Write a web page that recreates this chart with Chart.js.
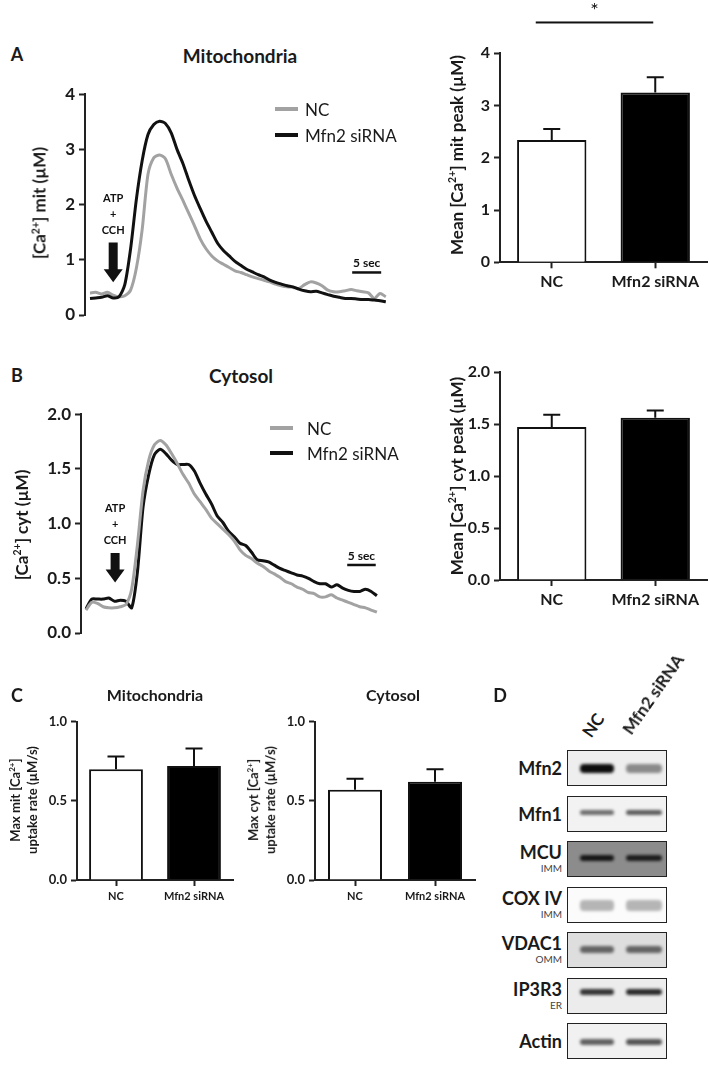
<!DOCTYPE html>
<html>
<head>
<meta charset="utf-8">
<script src="https://cdn.jsdelivr.net/npm/chart.js@4.4.0/dist/chart.umd.min.js"></script>
<style>
body { margin: 0; background: #fff; }
#fig { position: relative; width: 709px; height: 1065px; overflow: hidden; font-family: Lato, "Open Sans", sans-serif; color: #1a1a1a; }
canvas { position: absolute; }
.t { position: absolute; white-space: nowrap; line-height: 1; font-weight: bold; transform: translate(-50%, -50%); }
.rot { transform: translate(-50%, -50%) rotate(-90deg); text-align: center; }
.leg { position: absolute; white-space: nowrap; line-height: 1; font-size: 17px; transform: translateY(-50%); }
.legline { position: absolute; height: 4px; width: 23px; }
sup { font-size: 0.62em; vertical-align: 0.6em; line-height: 0; }
.blot { position: absolute; left: 567px; width: 100px; height: 36px; border: 1.5px solid #222; box-sizing: border-box; overflow: hidden; }
.band { position: absolute; border-radius: 4px; filter: blur(1.4px); }
.blab { position: absolute; right: 147px; text-align: right; white-space: nowrap; line-height: 1; }
.lane { position: absolute; font-size: 17px; font-weight: bold; line-height: 1; white-space: nowrap; transform-origin: 0 100%; transform: rotate(-55deg); }
</style>
</head>
<body>
<div id="fig">
  <canvas id="traceMit" width="400" height="250" style="left:0;top:80px"></canvas>
  <canvas id="peakMit" width="309" height="330" style="left:400px;top:0"></canvas>
  <canvas id="traceCyt" width="400" height="250" style="left:0;top:400px"></canvas>
  <canvas id="peakCyt" width="309" height="300" style="left:400px;top:350px"></canvas>
  <canvas id="rateMit" width="245" height="210" style="left:0;top:700px"></canvas>
  <canvas id="rateCyt" width="240" height="210" style="left:245px;top:700px"></canvas>

  <div class="t" style="left:17px;top:54px;font-size:18px">A</div>
  <div class="t" style="left:240px;top:55px;font-size:19px">Mitochondria</div>
  <div class="t" style="left:17px;top:375px;font-size:18px">B</div>
  <div class="t" style="left:241px;top:375px;font-size:19px">Cytosol</div>
  <div class="t" style="left:17px;top:695px;font-size:18px">C</div>
  <div class="t" style="left:155px;top:695px;font-size:16px">Mitochondria</div>
  <div class="t" style="left:393px;top:695px;font-size:16px">Cytosol</div>
  <div class="t" style="left:500px;top:695px;font-size:18px">D</div>

  <div class="t rot" style="left:39px;top:203px;font-size:17px">[Ca<sup>2+</sup>] mit (µM)</div>
  <div class="t rot" style="left:21px;top:525px;font-size:17px">[Ca<sup>2+</sup>] cyt (µM)</div>
  <div class="t rot" style="left:456px;top:155px;font-size:17px">Mean [Ca<sup>2+</sup>] mit peak (µM)</div>
  <div class="t rot" style="left:456px;top:476px;font-size:17px">Mean [Ca<sup>2+</sup>] cyt peak (µM)</div>
  <div class="t rot" style="left:24px;top:800px;font-size:13px;line-height:1.3">Max mit [Ca<sup>2+</sup>]<br>uptake rate (µM/s)</div>
  <div class="t rot" style="left:262px;top:800px;font-size:13px;line-height:1.3">Max cyt [Ca<sup>2+</sup>]<br>uptake rate (µM/s)</div>

  <div id="legends"></div>
  <div id="blots"></div>
</div>

<script>
// traces (one sample per second)
var timeSec = [0, 1, 2, 3, 4, 5, 6, 7, 8, 9, 10, 11, 12, 13, 14, 15, 16, 17, 18, 19, 20, 21, 22, 23, 24, 25,
    26, 27, 28, 29, 30, 31, 32, 33, 34, 35, 36, 37, 38, 39, 40, 41, 42, 43, 44, 45, 46, 47, 48, 49, 50, 51];
var mitNC = [0.40, 0.41, 0.38, 0.41, 0.36, 0.33, 0.35, 0.45, 0.85, 1.55, 2.55, 2.85, 2.90, 2.83, 2.55, 2.30,
    2.08, 1.85, 1.62, 1.38, 1.20, 1.07, 0.98, 0.92, 0.86, 0.80, 0.77, 0.73, 0.69, 0.66, 0.63, 0.60, 0.56,
    0.53, 0.51, 0.50, 0.48, 0.55, 0.60, 0.58, 0.53, 0.45, 0.42, 0.42, 0.44, 0.46, 0.44, 0.42, 0.40, 0.30, 0.39, 0.33];
var mitMfn2 = [0.30, 0.31, 0.32, 0.35, 0.31, 0.33, 0.55, 1.20, 2.10, 2.80, 3.27, 3.45, 3.51, 3.47, 3.30, 3.00,
    2.75, 2.45, 2.17, 1.93, 1.70, 1.50, 1.30, 1.17, 1.07, 0.97, 0.90, 0.83, 0.78, 0.73, 0.69, 0.63, 0.59,
    0.56, 0.53, 0.51, 0.47, 0.44, 0.42, 0.43, 0.40, 0.37, 0.34, 0.32, 0.30, 0.30, 0.29, 0.28, 0.28, 0.27, 0.26, 0.24];
var cytNC = [0.21, 0.28, 0.27, 0.24, 0.23, 0.23, 0.24, 0.26, 0.40, 0.80, 1.30, 1.58, 1.72, 1.76, 1.72, 1.64,
    1.55, 1.45, 1.37, 1.27, 1.20, 1.13, 1.05, 1.00, 0.95, 0.90, 0.84, 0.76, 0.71, 0.68, 0.64, 0.61, 0.57,
    0.54, 0.51, 0.47, 0.45, 0.42, 0.40, 0.37, 0.36, 0.33, 0.33, 0.35, 0.32, 0.30, 0.28, 0.26, 0.24, 0.23, 0.21, 0.19];
var cytMfn2 = [0.22, 0.31, 0.31, 0.31, 0.32, 0.29, 0.30, 0.29, 0.23, 0.55, 1.15, 1.45, 1.63, 1.68, 1.64, 1.58,
    1.54, 1.54, 1.54, 1.48, 1.37, 1.27, 1.18, 1.07, 1.01, 0.93, 0.88, 0.82, 0.80, 0.74, 0.67, 0.66, 0.65,
    0.62, 0.59, 0.57, 0.55, 0.53, 0.52, 0.50, 0.47, 0.45, 0.45, 0.42, 0.44, 0.41, 0.39, 0.38, 0.38, 0.40, 0.38, 0.34];

// bar panels
var groups = ['NC', 'Mfn2 siRNA'];
var mitPeakMean = [2.34, 3.25];
var mitPeakSem = [0.21, 0.29];
var cytPeakMean = [1.47, 1.56];
var cytPeakSem = [0.12, 0.07];
var mitRateMean = [0.70, 0.72];
var mitRateSem = [0.08, 0.11];
var cytRateMean = [0.57, 0.62];
var cytRateSem = [0.07, 0.08];

// western blot
var blotProteins = ['Mfn2', 'Mfn1', 'MCU', 'COX IV', 'VDAC1', 'IP3R3', 'Actin'];
var blotLocations = ['', '', 'IMM', 'IMM', 'OMM', 'ER', ''];
var bandNC = [0.95, 0.55, 0.85, 0.28, 0.55, 0.78, 0.60];
var bandMfn2 = [0.42, 0.62, 0.80, 0.28, 0.55, 0.82, 0.65];

var ncColor = '#a2a2a2';
var mfnColor = '#111111';
var stimulus = ['ATP', '+', 'CCH'];

Chart.defaults.font.family = 'Lato, "Open Sans", sans-serif';
Chart.defaults.color = '#1a1a1a';
Chart.defaults.animation = false;
Chart.defaults.plugins.legend.display = false;
Chart.defaults.plugins.tooltip.enabled = false;

function toPoints(vals) {
    return timeSec.map(function (t, i) { return { x: t, y: vals[i] }; });
}

function yAxis(max, step, digits, width, size) {
    return {
        min: 0, max: max,
        afterFit: function (s) { s.width = width; },
        border: { display: true, color: '#222', width: 2 },
        grid: { drawOnChartArea: false, tickLength: 6, tickWidth: 2, tickColor: '#222' },
        ticks: {
            stepSize: step, padding: 4, color: '#1a1a1a',
            font: { size: size, weight: 'bold' },
            callback: function (v) { return v.toFixed(digits); }
        }
    };
}

// arrow + "ATP + CCH" and 5 sec scale bar
var traceMarks = {
    id: 'traceMarks',
    afterDraw: function (chart, args, o) {
        var ctx = chart.ctx, xs = chart.scales.x, ys = chart.scales.y;
        var ax = xs.getPixelForValue(o.arrowAt);
        var top = ys.getPixelForValue(o.arrowFrom), tip = ys.getPixelForValue(o.arrowTo);
        ctx.save();
        ctx.fillStyle = '#111';
        ctx.beginPath();
        ctx.moveTo(ax - 4.5, top);
        ctx.lineTo(ax + 4.5, top);
        ctx.lineTo(ax + 4.5, tip - 13);
        ctx.lineTo(ax + 9.5, tip - 13);
        ctx.lineTo(ax, tip);
        ctx.lineTo(ax - 9.5, tip - 13);
        ctx.lineTo(ax - 4.5, tip - 13);
        ctx.closePath();
        ctx.fill();
        ctx.font = 'bold 11px Lato';
        ctx.textAlign = 'center';
        ctx.textBaseline = 'middle';
        stimulus.forEach(function (s, i) { ctx.fillText(s, ax, top - 44 + i * 16); });
        var x0 = xs.getPixelForValue(o.barFrom), x1 = xs.getPixelForValue(o.barTo);
        var by = ys.getPixelForValue(o.barAt);
        ctx.fillRect(x0, by - 1, x1 - x0, 2.5);
        ctx.font = 'bold 12px Lato';
        ctx.fillText(o.barLabel, (x0 + x1) / 2, by - 9);
        ctx.restore();
    }
};

var errorBars = {
    id: 'errorBars',
    afterDatasetsDraw: function (chart) {
        var ctx = chart.ctx, ys = chart.scales.y;
        chart.data.datasets.forEach(function (ds, i) {
            chart.getDatasetMeta(i).data.forEach(function (bar, j) {
                var top = ys.getPixelForValue(ds.data[j] + ds.sem[j]);
                ctx.save();
                ctx.strokeStyle = '#111';
                ctx.lineWidth = 2;
                ctx.beginPath();
                ctx.moveTo(bar.x, bar.y);
                ctx.lineTo(bar.x, top);
                ctx.moveTo(bar.x - 8.5, top);
                ctx.lineTo(bar.x + 8.5, top);
                ctx.stroke();
                ctx.restore();
            });
        });
    }
};

var sigBar = {
    id: 'sigBar',
    afterDraw: function (chart, args, o) {
        if (!o.show) return;
        var ctx = chart.ctx, xs = chart.scales.x, ys = chart.scales.y;
        var x0 = xs.getPixelForValue(0) - 16, x1 = xs.getPixelForValue(1) - 2;
        var ly = ys.getPixelForValue(o.lineAt);
        ctx.save();
        ctx.fillStyle = '#111';
        ctx.fillRect(x0, ly - 1, x1 - x0, 2);
        ctx.font = '20px Lato';
        ctx.textAlign = 'center';
        ctx.textBaseline = 'middle';
        ctx.fillText('*', (x0 + x1) / 2, ys.getPixelForValue(o.starAt));
        ctx.restore();
    }
};

function traceChart(id, nc, mfn, ncOnTop, yMax, step, digits, yWidth, xMin, xMax, pad, marks) {
    return new Chart(document.getElementById(id), {
        type: 'line',
        data: {
            datasets: [{
                label: groups[0], data: toPoints(nc), borderColor: ncColor,
                borderWidth: 3, pointRadius: 0, tension: 0.25, order: ncOnTop ? 0 : 1
            }, {
                label: groups[1], data: toPoints(mfn), borderColor: mfnColor,
                borderWidth: 3, pointRadius: 0, tension: 0.25, order: ncOnTop ? 1 : 0
            }]
        },
        options: {
            responsive: false,
            layout: { padding: pad },
            scales: {
                x: { type: 'linear', display: false, min: xMin, max: xMax },
                y: yAxis(yMax, step, digits, yWidth, 17)
            },
            plugins: { traceMarks: marks }
        },
        plugins: [traceMarks]
    });
}

function barChart(id, means, sems, yMax, step, digits, yWidth, xHeight, pad, tickSize, labelSize, barPct, sig) {
    return new Chart(document.getElementById(id), {
        type: 'bar',
        data: {
            labels: groups,
            datasets: [{
                data: means, sem: sems,
                backgroundColor: ['#ffffff', '#000000'],
                borderColor: '#111', borderWidth: 2,
                barPercentage: barPct, categoryPercentage: 1
            }]
        },
        options: {
            responsive: false,
            layout: { padding: pad },
            scales: {
                x: {
                    afterFit: function (s) { s.height = xHeight; },
                    border: { display: true, color: '#222', width: 2 },
                    grid: { offset: false, drawOnChartArea: false, tickLength: 6, tickWidth: 2, tickColor: '#222' },
                    ticks: { padding: 4, maxRotation: 0, color: '#1a1a1a', font: { size: labelSize, weight: 'bold' } }
                },
                y: yAxis(yMax, step, digits, yWidth, tickSize)
            },
            plugins: { sigBar: sig || { show: false } }
        },
        plugins: [errorBars, sigBar]
    });
}

traceChart('traceMit', mitNC, mitMfn2, false, 4, 1, 0, 85, -0.86, 51.72,
    { top: 13, right: 10, bottom: 15, left: 0 },
    { arrowAt: 4, arrowFrom: 1.315, arrowTo: 0.595, barFrom: 45.2, barTo: 50.2, barAt: 0.775, barLabel: '5 sec' });

traceChart('traceCyt', cytNC, cytMfn2, true, 2, 0.5, 1, 81, -0.88, 52.6,
    { top: 11.7, right: 14, bottom: 17, left: 0 },
    { arrowAt: 5.1, arrowFrom: 0.732, arrowTo: 0.461, barFrom: 45.8, barTo: 50.8, barAt: 0.624, barLabel: '5 sec' });

barChart('peakMit', mitPeakMean, mitPeakSem, 4, 1, 0, 100, 67.7,
    { top: 53.3, right: 2, bottom: 0, left: 0 }, 16, 16, 0.67,
    { show: true, lineAt: 4.59, starAt: 4.82 });

barChart('peakCyt', cytPeakMean, cytPeakSem, 2, 0.5, 1, 100, 70,
    { top: 22, right: 2, bottom: 0, left: 0 }, 16, 16, 0.67);

barChart('rateMit', mitRateMean, mitRateSem, 1, 0.5, 1, 77, 30,
    { top: 21.7, right: 12, bottom: 0, left: 0 }, 13, 11, 0.69);

barChart('rateCyt', cytRateMean, cytRateSem, 1, 0.5, 1, 70, 30,
    { top: 21.7, right: 10, bottom: 0, left: 0 }, 13, 11, 0.675);

// legends for the two trace panels
var legendSpots = [{ x: 275, y: 109, gap: 26, tx: 305 }, { x: 270, y: 428, gap: 25, tx: 307 }];
var legendHtml = '';
legendSpots.forEach(function (p) {
    [ncColor, mfnColor].forEach(function (c, i) {
        var y = p.y + i * p.gap;
        legendHtml += '<div class="legline" style="left:' + p.x + 'px;top:' + (y - 2) + 'px;background:' + c + '"></div>';
        legendHtml += '<div class="leg" style="left:' + p.tx + 'px;top:' + y + 'px">' + groups[i] + '</div>';
    });
});
document.getElementById('legends').innerHTML = legendHtml;

// blot panel
var blotTop = 750, blotStep = 45.5;
var blotBg = ['#eeeeee', '#f2f2f2', '#8c8c8c', '#fbfbfb', '#dedede', '#ececec', '#f1f1f1'];
var bandH = [9, 5, 6, 11, 7, 6, 6];
var bandPos = [0.48, 0.45, 0.45, 0.5, 0.45, 0.38, 0.5];
var blotHtml = '';
blotProteins.forEach(function (p, i) {
    var top = blotTop + i * blotStep;
    blotHtml += '<div class="blot" style="top:' + top + 'px;background:' + blotBg[i] + '">';
    [bandNC[i], bandMfn2[i]].forEach(function (v, k) {
        var bx = k === 0 ? 12 : 58;
        blotHtml += '<div class="band" style="left:' + bx + 'px;width:' + (k === 0 ? 34 : 36) + 'px;top:' +
            (36 * bandPos[i] - bandH[i] / 2) + 'px;height:' + bandH[i] + 'px;background:rgba(0,0,0,' + v + ')"></div>';
    });
    blotHtml += '</div>';
    var loc = blotLocations[i];
    blotHtml += '<div class="blab" style="top:' + (top + (loc ? 2 : 9)) + 'px;font-size:18px;font-weight:bold">' + p + '</div>';
    if (loc) {
        blotHtml += '<div class="blab" style="top:' + (top + 22) + 'px;font-size:10px;color:#444">' + loc + '</div>';
    }
});
blotHtml += '<div class="lane" style="left:593px;top:723px">' + groups[0] + '</div>';
blotHtml += '<div class="lane" style="left:633px;top:720px">' + groups[1] + '</div>';
document.getElementById('blots').innerHTML = blotHtml;
</script>
</body>
</html>
